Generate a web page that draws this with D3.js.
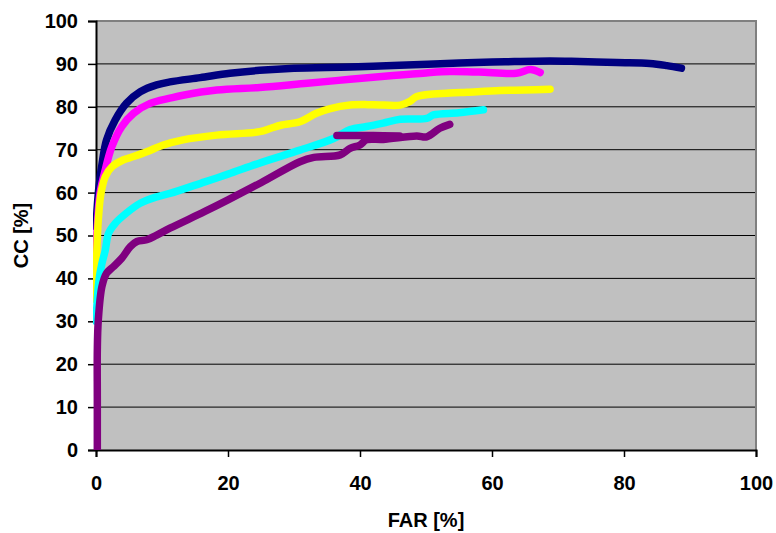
<!DOCTYPE html>
<html>
<head>
<meta charset="utf-8">
<script src="https://cdn.jsdelivr.net/npm/d3@7"></script>
<style>
  body { margin: 0; background: #fff; }
  text { font-family: "Liberation Sans", Arial, sans-serif; font-weight: bold; }
</style>
</head>
<body>
<div id="chart"></div>
<script>
// FAR / CC curves (in %)
const navyFar = [0, 0.2, 0.45, 1.0, 1.6, 2.9, 4.6, 6.7, 9.2, 11.2, 15.8, 20.3, 24.8, 30, 38.5, 46, 55, 62, 68.8, 72, 78.9, 83.9, 86.5, 88.7];
const navyCc  = [52, 57, 61.4, 67.6, 72.3, 76.9, 80.8, 83.5, 85.1, 85.8, 86.8, 87.8, 88.5, 89, 89.3, 89.7, 90.2, 90.5, 90.7, 90.6, 90.3, 90.1, 89.6, 89.0];

const magentaFar = [0, 0.2, 0.6, 1.4, 2.4, 3.9, 5.7, 8.2, 11.2, 13.2, 18.3, 24.8, 32, 38.5, 45, 50, 53.6, 58, 63.7, 65.8, 67.3];
const magentaCc  = [45, 52, 59.8, 65.3, 70.7, 75.4, 78.5, 80.8, 82, 82.7, 83.9, 84.5, 85.5, 86.4, 87.3, 87.9, 88.2, 88.1, 87.8, 88.7, 88.0];

const yellowFar = [0, 0.1, 0.35, 0.75, 1.4, 2.4, 4.1, 5.7, 7.7, 10.2, 13.2, 18.3, 24.8, 26.5, 28, 30.9, 33.4, 35.5, 38.5, 42, 46.1, 47.5, 48.6, 53.6, 56.2, 61.2, 65, 68.8];
const yellowCc  = [35, 45.1, 53.6, 59.8, 63.7, 66, 67.6, 68.4, 69.5, 71.1, 72.3, 73.4, 74.2, 75, 75.7, 76.5, 78.5, 79.6, 80.4, 80.5, 80.4, 81.2, 82.4, 83.2, 83.4, 83.8, 83.9, 84.1];

const cyanFar = [0, 0.45, 0.9, 1.4, 1.9, 2.9, 4.6, 6.7, 9.2, 11.2, 16.5, 20, 25, 30.9, 36, 38.5, 41, 43.5, 46.1, 50.1, 51.1, 55, 58.7];
const cyanCc  = [30, 39.6, 43.5, 46.5, 50.5, 52.8, 55.2, 57.5, 59, 59.8, 62.5, 64.3, 67, 69.9, 72.6, 74.7, 75.4, 76.2, 77.1, 77.3, 78.1, 78.6, 79.3];

const purpleFar = [0.2, 0.2, 0.2, 0.35, 0.9, 1.6, 2.6, 3.9, 5.2, 6.2, 7.7, 9.2, 11.2, 16.5, 20, 25, 30.9, 33, 37, 38.5, 40, 41, 43.5, 48.6, 50.1, 52.1, 53.6];
const purpleCc  = [0, 12, 23.3, 30.3, 38.1, 41.2, 42.7, 44.7, 47.4, 48.6, 49, 50.1, 51.7, 55.6, 58.3, 62.3, 67.2, 68.2, 68.8, 70.3, 71.1, 72.3, 72.4, 73.2, 73.0, 75, 75.9];
// short flat piece of the purple curve
const purpleTailFar = [36.5, 42, 46];
const purpleTailCc  = [73.3, 73.3, 73.2];

const xTicks = [0, 20, 40, 60, 80, 100];
const yTicks = [0, 10, 20, 30, 40, 50, 60, 70, 80, 90, 100];

const width = 776;
const height = 533;
const margin = { top: 21, right: 20, bottom: 83, left: 96 };

const svg = d3.select("#chart")
    .append("svg")
    .attr("width", width)
    .attr("height", height);

const x = d3.scaleLinear().domain([0, 100]).range([margin.left, width - margin.right]);
const y = d3.scaleLinear().domain([0, 100]).range([height - margin.bottom, margin.top]);

// clip curves near the left and bottom edges
svg.append("clipPath")
    .attr("id", "plot-clip")
    .append("rect")
    .attr("x", x(0) - 3).attr("y", 0)
    .attr("width", x(100) - x(0) + 13).attr("height", y(0));

// plot background
svg.append("rect")
    .attr("x", x(0)).attr("y", y(100))
    .attr("width", x(100) - x(0)).attr("height", y(0) - y(100))
    .attr("fill", "#c0c0c0");

// gridlines
svg.append("g")
    .selectAll("line")
    .data(yTicks.filter(d => d > 0 && d < 100))
    .join("line")
    .attr("x1", x(0)).attr("x2", x(100))
    .attr("y1", d => y(d)).attr("y2", d => y(d))
    .attr("stroke", "#000")
    .attr("stroke-width", 1);

// gray top/right border
svg.append("path")
    .attr("d", `M${x(0)},${y(100)}H${x(100)}V${y(0)}`)
    .attr("fill", "none")
    .attr("stroke", "#808080")
    .attr("stroke-width", 2);

// axes
const yAxis = svg.append("g")
    .attr("transform", `translate(${x(0)},0)`)
    .call(d3.axisLeft(y).tickValues(yTicks).tickSize(8).tickPadding(10));
const xAxis = svg.append("g")
    .attr("transform", `translate(0,${y(0)})`)
    .call(d3.axisBottom(x).tickValues(xTicks).tickSize(7).tickPadding(19));

[yAxis, xAxis].forEach(a => {
    a.select(".domain").attr("stroke", "#000").attr("stroke-width", 2);
    a.selectAll(".tick line").attr("stroke", "#000").attr("stroke-width", 1.5);
    a.selectAll(".tick text")
        .attr("fill", "#000")
        .style("font-size", "20px")
        .style("font-weight", "bold")
        .style("font-family", "'Liberation Sans', Arial, sans-serif");
});

const series = [
    { far: navyFar, cc: navyCc, color: "#000080" },
    { far: magentaFar, cc: magentaCc, color: "#ff00ff" },
    { far: yellowFar, cc: yellowCc, color: "#ffff00" },
    { far: cyanFar, cc: cyanCc, color: "#00ffff" },
    { far: purpleFar, cc: purpleCc, color: "#800080" },
    { far: purpleTailFar, cc: purpleTailCc, color: "#800080" }
];

const line = d3.line()
    .x(d => x(d[0]))
    .y(d => y(d[1]))
    .curve(d3.curveCatmullRom.alpha(0.5));

// curves drawn over the axis line, as in the original
svg.append("g")
    .attr("clip-path", "url(#plot-clip)")
    .selectAll("path")
    .data(series)
    .join("path")
    .attr("d", s => line(s.far.map((f, i) => [f, s.cc[i]])))
    .attr("fill", "none")
    .attr("stroke", s => s.color)
    .attr("stroke-width", 7.5)
    .attr("stroke-linecap", "round")
    .attr("stroke-linejoin", "round");

// axis titles
svg.append("text")
    .attr("x", (x(0) + x(100)) / 2)
    .attr("y", 527)
    .attr("text-anchor", "middle")
    .style("font-size", "20px")
    .text("FAR [%]");

svg.append("text")
    .attr("transform", `translate(28,${(y(0) + y(100)) / 2}) rotate(-90)`)
    .attr("text-anchor", "middle")
    .style("font-size", "20px")
    .text("CC [%]");
</script>
</body>
</html>
